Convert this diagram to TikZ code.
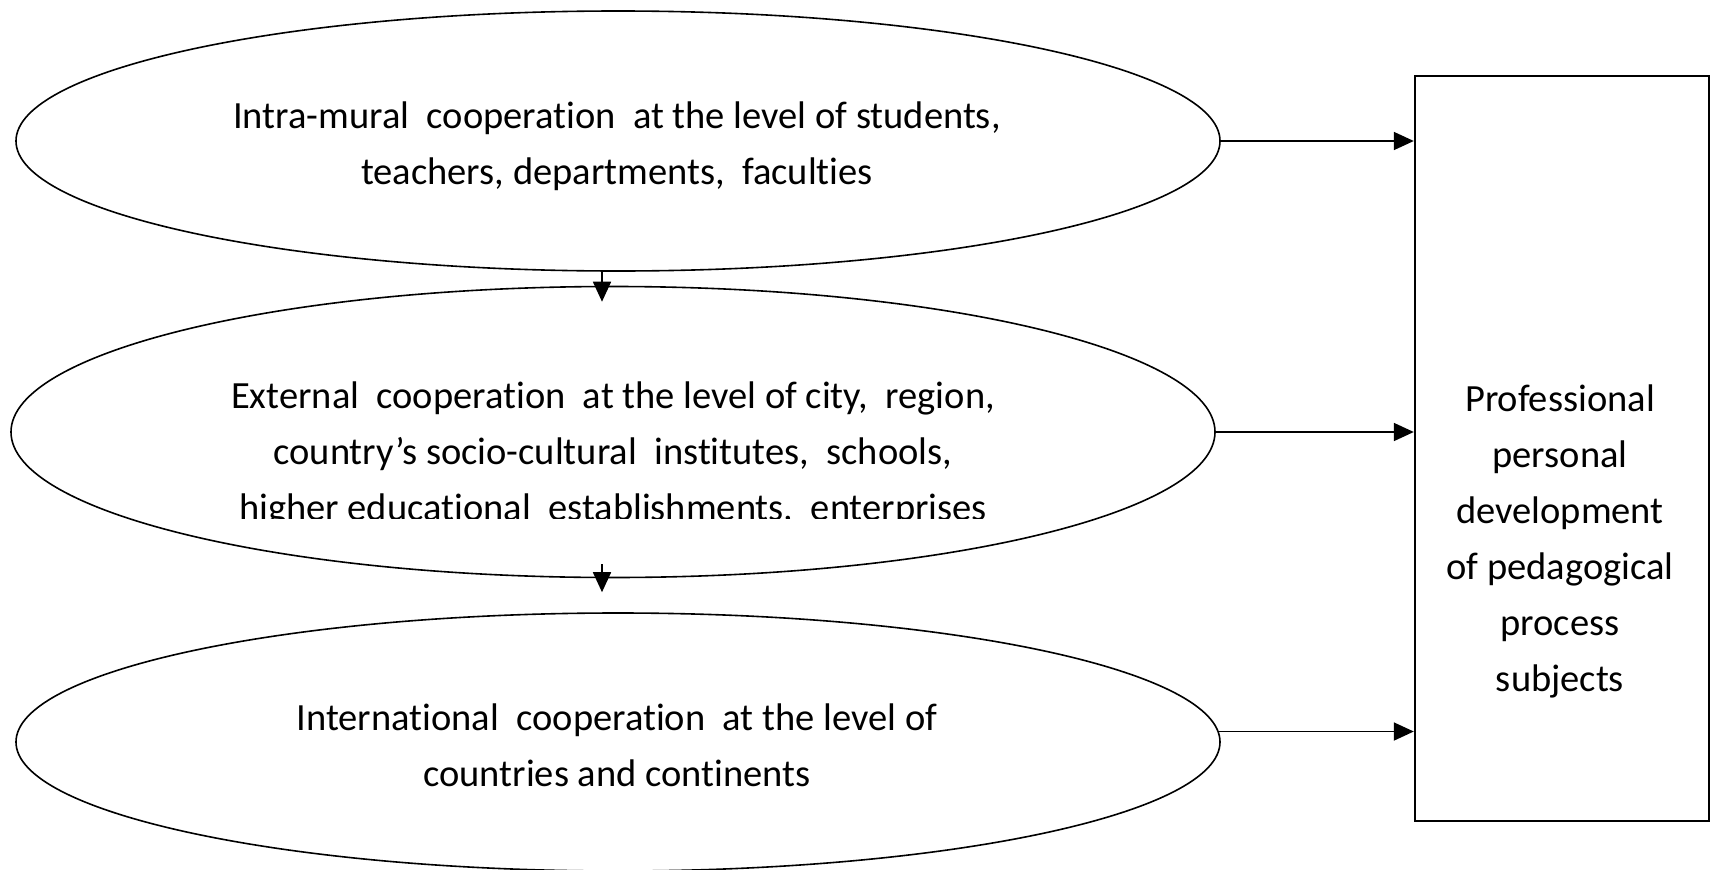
\documentclass[tikz,border=0pt]{standalone}
\usepackage{fontspec}
\setmainfont{Carlito}[Ligatures=NoCommon]
\usetikzlibrary{shapes.geometric,arrows.meta}
\begin{document}
\begin{tikzpicture}[x=1pt,y=-1pt,
  oval/.style={ellipse, draw, line width=1.6pt, inner sep=0pt, minimum width=1204pt},
  lbl/.style={align=center, inner sep=0pt, font=\fontsize{38.5}{56}\selectfont, anchor=base},
  conn/.style={line width=1.8pt, -{Triangle[length=20pt,width=18pt]}}]
\useasboundingbox (0,0) rectangle (1716,870);
\fill[white] (0,0) rectangle (1716,870);
% shapes
\node[oval, minimum height=260pt] (e1) at (618,141) {};
\node[oval, minimum height=291pt] (e2) at (613,432) {};
\node[oval, minimum height=258pt] (e3) at (618,742) {};
\node[draw, line width=2.4pt, minimum width=294pt, minimum height=745pt, inner sep=0pt] (box) at (1562,448.5) {};
% texts (anchored at the baseline of their last line)
\node[lbl] (t1) at (617,184) {Intra-mural~ cooperation~ at the level of students,\\teachers, departments,~ faculties};
\begin{scope}
\clip (0,0) rectangle (1716,518);
\node[lbl] (t2) at (613,520) {External~ cooperation~ at the level of city,~ region,\\country’s socio-cultural~ institutes,~ schools,\\higher educational~ establishments,~ enterprises};
\end{scope}
\node[lbl] (t3) at (617,786) {International~ cooperation~ at the level of\\countries and continents};
\node[lbl] (t4) at (1560,691) {Professional\\personal\\development\\of pedagogical\\process\\subjects};
% connectors
\draw[conn] (e1.east) -- (e1.east -| box.west);
\draw[conn] (e2.east) -- (e2.east -| box.west);
\draw[conn] (e3.1.7) -- (e3.1.7 -| box.west);
\draw[conn] ([xshift=-16pt]e1.south) -- ([xshift=-11pt,yshift=-16pt]e2.north);
\draw[conn] ([xshift=-11pt,yshift=14pt]e2.south) -- ([xshift=-16pt,yshift=20pt]e3.north);
\end{tikzpicture}
\end{document}
